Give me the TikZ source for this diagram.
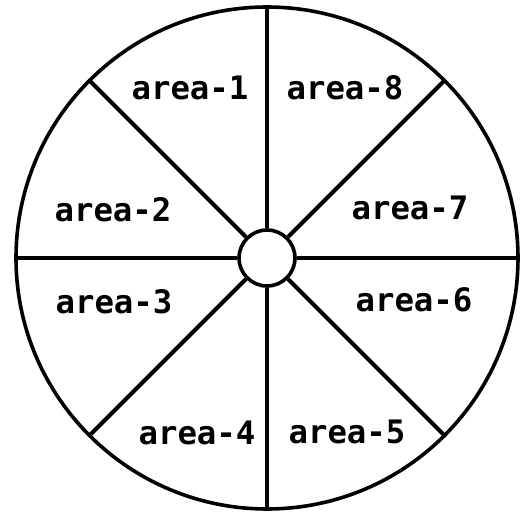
\documentclass[tikz,border=0pt]{standalone}
\usepackage{fontspec}
\setmonofont{DejaVu Sans Mono}
\usepackage{tikz}
\tikzset{
  ring/.style={circle, draw=black, line width=0.18cm, inner sep=0pt, fill=white},
  spoke/.style={line width=0.2cm, draw=black},
  arealbl/.style={font=\ttfamily\bfseries\fontsize{46}{54}\selectfont, inner sep=0pt},
}
\begin{document}
\begin{tikzpicture}[x=0.05cm, y=-0.05cm]
  \useasboundingbox (0,0) rectangle (527,512);
  \node[ring, minimum size=25.1cm] (rim) at (267,258) {};
  \node[ring, minimum size=2.8cm]  (hub) at (267,258) {};
  % spokes between hub and rim
  \foreach \a in {0,45,...,315}
    \draw[spoke] (hub.\a) -- (rim.\a);
  \node[arealbl] (a1) at (190,88)  {area-1};
  \node[arealbl] (a2) at (113,210) {area-2};
  \node[arealbl] (a3) at (114,302) {area-3};
  \node[arealbl] (a4) at (197,433) {area-4};
  \node[arealbl] (a5) at (347,432) {area-5};
  \node[arealbl] (a6) at (414,300) {area-6};
  \node[arealbl] (a7) at (410,208) {area-7};
  \node[arealbl] (a8) at (345,88)  {area-8};
\end{tikzpicture}
\end{document}
